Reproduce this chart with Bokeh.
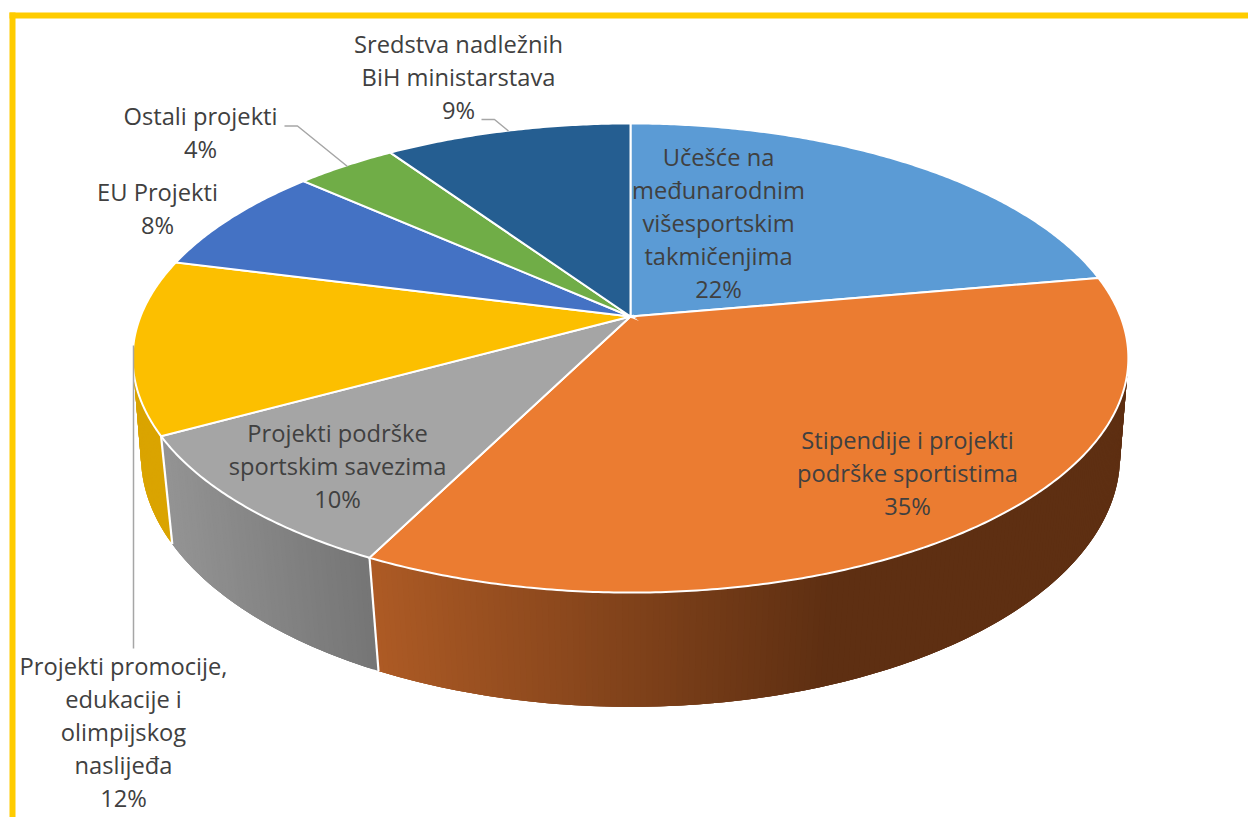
import math
from bokeh.plotting import figure
from bokeh.core.properties import value
from bokeh.embed import file_html
from bokeh.resources import INLINE

# ---- data (shares in %, clockwise from the top) ----
categories = ["Učešće na međunarodnim višesportskim takmičenjima",
              "Stipendije i projekti podrške sportistima",
              "Projekti podrške sportskim savezima",
              "Projekti promocije, edukacije i olimpijskog naslijeđa",
              "EU Projekti", "Ostali projekti",
              "Sredstva nadležnih BiH ministarstava"]
shares = [22.2, 35.2, 9.6, 12.0, 7.6, 3.9, 9.5]
top_colors = ["#5B9BD5", "#EB7C31", "#A5A5A5", "#FCBF00", "#4472C4", "#70AD47", "#255E91"]

label_lines = [
    ["Učešće na", "međunarodnim", "višesportskim", "takmičenjima", "22%"],
    ["Stipendije i projekti", "podrške sportistima", "35%"],
    ["Projekti podrške", "sportskim savezima", "10%"],
    ["Projekti promocije,", "edukacije i", "olimpijskog", "naslijeđa", "12%"],
    ["EU Projekti", "8%"],
    ["Ostali projekti", "4%"],
    ["Sredstva nadležnih", "BiH ministarstava", "9%"],
]
label_x = [718, 907, 337, 123, 157, 200, 458]
label_y0 = [156, 439, 432, 665, 191, 115, 43]
LINE_H = 33.2

# ---- layout: projected disc (perspective) ----
CX = 630
TOP = dict(cy=316, R=490, A=227.2, k=0.177)
BOT = dict(cy=416, R=483.6, A=245, k=0.156)


def proj(d, th):
    w = 1 + d["k"] * math.cos(th)
    return CX + d["R"] * math.sin(th) / w, d["cy"] - d["A"] * math.cos(th) / w


def mix(a, b, t):
    t = max(0.0, min(1.0, t))
    ca = [int(a[i:i + 2], 16) for i in (1, 3, 5)]
    cb = [int(b[i:i + 2], 16) for i in (1, 3, 5)]
    return "#%02x%02x%02x" % tuple(round(x + (y - x) * t) for x, y in zip(ca, cb))


def side_color(i, x):
    if i == 1:
        return mix("#AE5B25", "#5E2F12", (x - 375) / (825 - 375))
    if i == 2:
        return mix("#949494", "#767676", (x - 172) / (375 - 172))
    if i == 3:
        return "#DAA400"
    return top_colors[i]


W, H = 1248, 817
p = figure(width=W, height=H, x_range=(0, W), y_range=(H, 0),
           output_backend="svg", toolbar_location=None, min_border=0,
           x_axis_location=None, y_axis_location=None, outline_line_color=None)
p.grid.visible = False
p.background_fill_color = "white"

# yellow frame
FRAME = "#FFCC00"
p.quad(left=[9], right=[15], top=[12], bottom=[820], fill_color=FRAME, line_color=None)
p.quad(left=[9], right=[1250], top=[12], bottom=[18], fill_color=FRAME, line_color=None)

# slice boundaries
edges = [0.0]
for s in shares:
    edges.append(edges[-1] + s)
total = edges[-1]
ang = [e / total * 2 * math.pi for e in edges]

# extruded side, as overlapping strips so the gradient can be shown without seams
xs, ys, cols = [], [], []
for i in range(len(shares)):
    n = max(2, int((ang[i + 1] - ang[i]) / math.radians(0.6)))
    for j in range(n):
        a = ang[i] + (ang[i + 1] - ang[i]) * j / n
        b = ang[i] + (ang[i + 1] - ang[i]) * min(n, j + 3) / n
        pts_u = [proj(TOP, a), proj(TOP, (a + b) / 2), proj(TOP, b)]
        pts_l = [proj(BOT, b), proj(BOT, (a + b) / 2), proj(BOT, a)]
        xs.append([q[0] for q in pts_u + pts_l])
        ys.append([q[1] for q in pts_u + pts_l])
        cols.append(side_color(i, pts_l[2][0]))
p.patches(xs, ys, fill_color=cols, line_color=None)

# white separators on the side
sx = [[proj(TOP, a)[0], proj(BOT, a)[0]] for a in ang[1:5]]
sy = [[proj(TOP, a)[1], proj(BOT, a)[1]] for a in ang[1:5]]
p.multi_line(sx, sy, line_color="white", line_width=2.2)

# top face
txs, tys = [], []
for i in range(len(shares)):
    n = max(2, int((ang[i + 1] - ang[i]) / math.radians(0.5)))
    pts = [proj(TOP, ang[i] + (ang[i + 1] - ang[i]) * j / n) for j in range(n + 1)]
    txs.append([CX] + [q[0] for q in pts])
    tys.append([TOP["cy"]] + [q[1] for q in pts])
p.patches(txs, tys, fill_color=top_colors, line_color="white", line_width=2, line_join="miter")

# leader lines
lead_x = [[284, 297, 347], [481, 494, 508], [133, 133]]
lead_y = [[125.5, 125.5, 166], [119, 119, 130.5], [345, 648]]
p.multi_line(lead_x, lead_y, line_color="#A6A6A6", line_width=1.5)

# labels
for lines, x, y0 in zip(label_lines, label_x, label_y0):
    p.text(x=[x] * len(lines), y=[y0 + LINE_H * k for k in range(len(lines))], text=lines,
           text_font=value("Open Sans"), text_font_size="23.7px", text_color="#404040",
           text_align="center", text_baseline="middle")

open("out.html", "w").write(file_html(p, INLINE))
